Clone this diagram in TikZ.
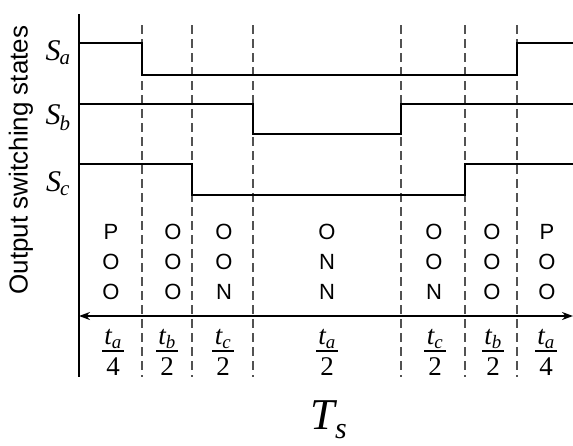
\documentclass[tikz,border=0pt]{standalone}
\usepackage{fontspec}
\setmainfont{Liberation Serif}
\newfontfamily\arialf{Liberation Sans}
\usetikzlibrary{arrows.meta}
\tikzset{
  sig/.style={line width=2pt, black, line join=miter},
  divider/.style={line width=1.7pt, black!68, dash pattern=on 9pt off 5pt},
  axisline/.style={line width=2.4pt, black},
  state/.style={font=\arialf\fontsize{22}{30}\selectfont, align=center, inner sep=0pt},
  fnum/.style={font=\fontsize{27}{27}\selectfont\itshape, inner sep=0pt},
  fden/.style={font=\fontsize{27}{27}\selectfont, inner sep=0pt},
  fbar/.style={line width=1.3pt},
  slabel/.style={font=\fontsize{30}{30}\selectfont, inner sep=0pt},
}
\begin{document}
\begin{tikzpicture}[x=1pt,y=-1pt]
\useasboundingbox (0,0) rectangle (573,445);
% dashed dividers
\foreach \xx/\nm in {142/d1,192/d2,253/d3,401/d4,465/d5,517/d6}{
  \coordinate (\nm t) at (\xx,25);
  \coordinate (\nm b) at (\xx,377);
  \draw[divider] (\nm t) -- (\nm b);
}
% signals
\draw[sig] (79,43) -- (142,43) -- (142,75) -- (517,75) -- (517,43) -- (573,43);
\draw[sig] (79,104) -- (253,104) -- (253,134) -- (401,134) -- (401,104) -- (573,104);
\draw[sig] (79,164) -- (192,164) -- (192,195) -- (465,195) -- (465,164) -- (573,164);
% axes
\coordinate (ytop) at (79,14);
\coordinate (ybot) at (79,377);
\draw[axisline] (ytop) -- (ybot);
\coordinate (al) at (79,316);
\coordinate (ar) at (573,316);
\draw[line width=2pt, {Stealth[length=11pt,width=8pt]}-{Stealth[length=11pt,width=8pt]}] (al) -- (ar);
% labels
\node[font=\arialf\fontsize{26}{26}\selectfont, rotate=90, inner sep=0pt] (ylab) at (21,160) {Output switching states};
\node[slabel] (sa) at (58,53) {\itshape S\textsubscript{\kern-1pt a}};
\node[slabel] (sb) at (58,118) {\itshape S\textsubscript{\kern-1pt b}};
\node[slabel] (sc) at (58,184) {\itshape S\textsubscript{\kern-1pt c}};
% states
\foreach \xx/\txt/\nm in {111/{P\\O\\O}/s1,173/{O\\O\\O}/s2,224/{O\\O\\N}/s3,327/{O\\N\\N}/s4,434/{O\\O\\N}/s5,492/{O\\O\\O}/s6,547/{P\\O\\O}/s7}{
  \node[state] (\nm) at (\xx,262) {\txt};
}
% fractions
\foreach \xx/\sb/\dn/\nm in {113/a/4/f1,167/b/2/f2,223/c/2/f3,327/a/2/f4,435/c/2/f5,493/b/2/f6,546/a/4/f7}{
  \node[fnum] (\nm n) at (\xx,339) {t\textsubscript{\sb}};
  \node[fden] (\nm d) at (\xx,367) {\dn};
  \draw[fbar] ([xshift=-11pt]\nm d.north |- 0,351) -- ([xshift=11pt]\nm d.north |- 0,351);
}
% period
\node[font=\fontsize{44}{44}\selectfont\itshape, inner sep=0pt] (ts) at (323,415) {T};
\node[font=\fontsize{30}{30}\selectfont\itshape, inner sep=0pt] (tss) at (341,432) {s};
\end{tikzpicture}
\end{document}
